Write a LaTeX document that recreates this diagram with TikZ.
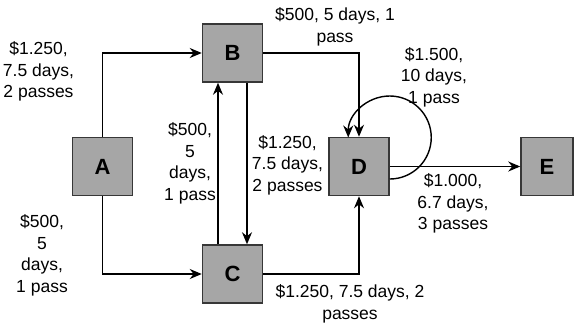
\documentclass[tikz,border=0pt]{standalone}
\usepackage{fontspec}
\setmainfont{Liberation Sans}
\usepackage{tikz}
\usetikzlibrary{arrows.meta,positioning}
\definecolor{boxgray}{RGB}{166,166,166}
\definecolor{boxedge}{RGB}{55,55,55}
\tikzstyle{station} = [rectangle, draw=boxedge, fill=boxgray, line width=1.5pt, minimum width=60, minimum height=58, font=\fontsize{22}{26}\selectfont\bfseries]
\tikzstyle{arrow} = [line width=1.4pt, ->, >={Stealth[length=12pt,width=10pt]}]
\tikzstyle{cost} = [align=center, inner sep=0pt, font=\fontsize{17.5}{21.5}\selectfont]

\begin{document}
\begin{tikzpicture}[x=1pt, y=-1pt]
    \useasboundingbox (0,0) rectangle (575,325);
    % Stations
    \node[station] (A) at (102.5,166.5) {A};
    \node[station] (B) at (232.5,53) {B};
    \node[station] (C) at (232.5,274) {C};
    \node[station] (D) at (359,166.5) {D};
    \node[station, minimum width=52] (E) at (547,166.5) {E};

    % Routes
    \draw[arrow] (A.north) |- (B.west);
    \draw[arrow] (A.south) |- (C.west);
    \draw[arrow] ([xshift=-14.5pt]C.north) -- ([xshift=-14.5pt]B.south);
    \draw[arrow] ([xshift=14.5pt]B.south) -- ([xshift=14.5pt]C.north);
    \draw[arrow] (B.east) -| (D.north);
    \draw[arrow] (C.east) -| (D.south);
    \draw[arrow] (D.east) -- (E.west);
    \draw[arrow] ([yshift=-12.5pt]D.east) arc[start angle=90, end angle=-180, radius=41.5];

    % Labels
    \node[cost] (lAB) at (38.5,71.5) {\$1.250,\\7.5 days,\\2 passes};
    \node[cost] (lBD) at (335,27) {\$500, 5 days, 1\\pass};
    \node[cost] (lDD) at (434,77) {\$1.500,\\10 days,\\1 pass};
    \node[cost] (lCB) at (190,163.5) {\$500,\\5\\days,\\1 pass};
    \node[cost] (lBC) at (287.5,165) {\$1.250,\\7.5 days,\\2 passes};
    \node[cost] (lAC) at (42,255.5) {\$500,\\5\\days,\\1 pass};
    \node[cost] (lDE) at (453,203.5) {\$1.000,\\6.7 days,\\3 passes};
    \node[cost] (lCD) at (350,304) {\$1.250, 7.5 days, 2\\passes};
\end{tikzpicture}
\end{document}
